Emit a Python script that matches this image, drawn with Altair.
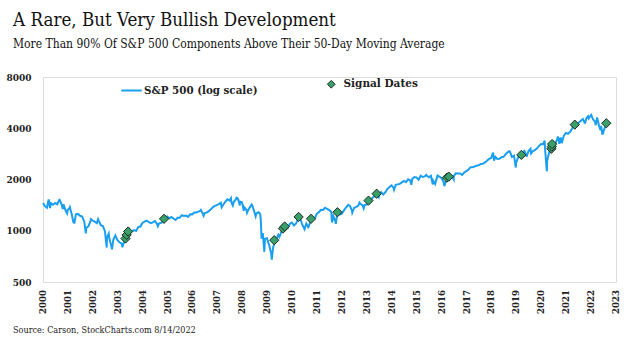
import altair as alt
import pandas as pd

# S&P 500 approximate month-end closes, Jan 2000 .. Jul 2022
years = list(range(2000, 2023))
monthly_closes = {
    2000: [1394, 1366, 1499, 1452, 1421, 1455, 1431, 1518, 1437, 1429, 1315, 1320],
    2001: [1366, 1240, 1160, 1249, 1256, 1224, 1211, 1134, 1041, 1060, 1139, 1148],
    2002: [1130, 1107, 1147, 1077, 1067, 990, 912, 916, 815, 886, 936, 880],
    2003: [856, 841, 848, 917, 964, 975, 990, 1008, 996, 1051, 1058, 1112],
    2004: [1131, 1145, 1126, 1107, 1121, 1141, 1102, 1104, 1115, 1130, 1174, 1212],
    2005: [1181, 1204, 1181, 1157, 1192, 1191, 1234, 1220, 1229, 1207, 1249, 1248],
    2006: [1280, 1281, 1295, 1311, 1270, 1270, 1277, 1304, 1336, 1378, 1401, 1418],
    2007: [1438, 1407, 1421, 1482, 1531, 1503, 1455, 1474, 1527, 1549, 1481, 1468],
    2008: [1379, 1331, 1323, 1386, 1400, 1280, 1267, 1283, 1166, 969, 896, 903],
    2009: [826, 735, 798, 873, 919, 919, 987, 1021, 1057, 1036, 1096, 1115],
    2010: [1074, 1104, 1169, 1187, 1089, 1031, 1102, 1049, 1141, 1183, 1181, 1258],
    2011: [1286, 1327, 1326, 1364, 1345, 1321, 1292, 1219, 1131, 1253, 1247, 1258],
    2012: [1312, 1366, 1408, 1398, 1310, 1362, 1379, 1407, 1441, 1412, 1416, 1426],
    2013: [1498, 1515, 1569, 1598, 1631, 1606, 1686, 1633, 1682, 1757, 1806, 1848],
    2014: [1783, 1859, 1872, 1884, 1924, 1960, 1931, 2003, 1972, 2018, 2068, 2059],
    2015: [1995, 2105, 2068, 2086, 2107, 2063, 2104, 1972, 1920, 2079, 2080, 2044],
    2016: [1940, 1932, 2060, 2065, 2097, 2099, 2174, 2171, 2168, 2126, 2199, 2239],
    2017: [2279, 2364, 2363, 2384, 2412, 2423, 2470, 2472, 2519, 2575, 2648, 2674],
    2018: [2824, 2714, 2641, 2648, 2705, 2718, 2816, 2902, 2914, 2712, 2760, 2507],
    2019: [2704, 2784, 2834, 2946, 2752, 2942, 2980, 2926, 2977, 3038, 3141, 3231],
    2020: [3226, 2954, 2585, 2912, 3044, 3100, 3271, 3500, 3363, 3270, 3622, 3756],
    2021: [3714, 3811, 3973, 4181, 4204, 4298, 4395, 4523, 4308, 4605, 4567, 4766],
    2022: [4516, 4374, 4530, 4132, 4132, 3785, 4130],
}

# intra-month extremes
extra_dates = [
    "2000-01-03", "2000-03-24", "2000-04-14", "2000-09-01", "2000-10-18", "2000-12-20",
    "2001-01-30", "2001-03-22", "2001-04-04", "2001-09-21", "2001-12-05",
    "2002-03-19", "2002-07-23", "2002-08-22", "2002-10-09", "2002-11-27",
    "2003-03-11", "2003-06-17", "2004-08-12", "2006-05-05", "2006-06-13",
    "2007-02-20", "2007-03-05", "2007-07-19", "2007-08-15", "2007-10-09", "2007-11-26",
    "2008-01-22", "2008-03-10", "2008-05-19", "2008-07-15", "2008-09-19", "2008-10-10",
    "2008-11-20", "2009-03-09", "2009-06-12", "2010-04-23", "2010-07-02", "2010-08-26",
    "2011-05-02", "2011-08-08", "2011-10-03", "2011-10-27", "2012-04-02", "2012-06-01",
    "2012-09-14", "2012-11-15", "2013-05-21", "2013-06-24", "2014-02-03", "2014-10-15",
    "2015-05-21", "2015-08-25", "2015-09-28", "2015-11-03", "2016-02-11", "2016-06-27",
    "2018-01-26", "2018-02-08", "2018-09-20", "2018-12-24", "2019-04-30", "2019-06-03",
    "2019-07-26", "2019-08-05", "2020-02-19", "2020-03-23", "2020-09-02", "2020-09-23",
    "2020-10-12", "2021-09-02", "2021-10-04", "2021-11-18", "2022-01-03", "2022-03-08",
    "2022-03-29", "2022-05-20", "2022-06-16", "2022-08-12",
]
extra_values = [
    1455, 1527, 1357, 1520, 1342, 1264,
    1373, 1118, 1103, 966, 1170,
    1170, 797, 962, 777, 938,
    800, 1011, 1064, 1325, 1224,
    1460, 1374, 1553, 1406, 1565, 1407,
    1310, 1273, 1426, 1214, 1255, 899,
    752, 677, 946, 1217, 1022, 1047,
    1361, 1119, 1099, 1285, 1419, 1278,
    1466, 1353, 1669, 1573, 1742, 1862,
    2131, 1868, 1882, 2110, 1829, 2001,
    2873, 2581, 2931, 2351, 2946, 2744,
    3026, 2844, 3386, 2237, 3580, 3237,
    3534, 4537, 4300, 4705, 4797, 4170,
    4632, 3901, 3667, 4280,
]

signal_dates = [
    "2003-04-25", "2003-05-12", "2003-06-02", "2004-11-10", "2009-04-14", "2009-08-20",
    "2009-09-14", "2010-04-06", "2010-10-05", "2011-10-27", "2013-01-25", "2013-05-24",
    "2016-03-18", "2016-04-15", "2019-03-15", "2020-05-28", "2020-06-04", "2020-06-08",
    "2021-05-07", "2022-08-12",
]
signal_values = [
    900, 945, 990, 1175, 880, 1030,
    1060, 1205, 1175, 1285, 1503, 1650,
    2050, 2080, 2790, 3030, 3120, 3230,
    4200, 4280,
]

y_ticks = [500, 1000, 2000, 4000, 8000]
x_tick_years = list(range(2000, 2024))


def year_frac(ts):
    ts = pd.Timestamp(ts)
    start = pd.Timestamp(ts.year, 1, 1)
    end = pd.Timestamp(ts.year + 1, 1, 1)
    return ts.year + (ts - start) / (end - start)


rows = []
for yr in years:
    for m, v in enumerate(monthly_closes[yr], start=1):
        rows.append((pd.Timestamp(yr, m, 28), v))
for d, v in zip(extra_dates, extra_values):
    rows.append((pd.Timestamp(d), v))
line_df = pd.DataFrame(rows, columns=["date", "value"]).sort_values("date")
line_df = line_df.drop_duplicates("date")
line_df["t"] = line_df["date"].map(year_frac)
line_df["series"] = "S&P 500 (log scale)"
line_df = line_df[["t", "value", "series"]]

sig_df = pd.DataFrame({"t": [year_frac(d) for d in signal_dates], "value": signal_values})
sig_df["series"] = "Signal Dates"

tick_df = pd.DataFrame({"t": x_tick_years, "label": [str(y) for y in x_tick_years]})

FONT = "DejaVu Serif"
CFONT = "DejaVu Serif Condensed"
x_scale = alt.Scale(domain=[2000, 2023], nice=False, zero=False)
y_scale = alt.Scale(type="log", domain=[500, 8000], nice=False)

x_axis = alt.Axis(values=x_tick_years, labels=False, ticks=False, domain=False,
                  grid=False, title=None)
y_axis = alt.Axis(
    values=y_ticks, format="d", labelFont=FONT, labelFontSize=9, labelFontWeight="bold",
    labelColor="#222", labelPadding=12, ticks=False, domain=False, grid=False, title=None,
)

line = alt.Chart(line_df).mark_line(strokeWidth=2).encode(
    x=alt.X("t:Q", scale=x_scale, axis=x_axis),
    y=alt.Y("value:Q", scale=y_scale, axis=y_axis),
    color=alt.Color(
        "series:N",
        scale=alt.Scale(range=["#1a9ff0"]),
        legend=alt.Legend(
            orient="none", legendX=77, legendY=2, title=None, symbolType="stroke",
            symbolSize=420, symbolStrokeWidth=2, labelFont=FONT, labelFontSize=10.3,
            labelFontWeight="bold", labelColor="#222", labelOffset=1,
        ),
    ),
)

points = alt.Chart(sig_df).mark_point(
    shape="diamond", filled=True, size=85, stroke="#1d2b22", strokeWidth=1, opacity=1
).encode(
    x="t:Q",
    y="value:Q",
    fill=alt.Fill(
        "series:N",
        scale=alt.Scale(range=["#3aa06a"]),
        legend=alt.Legend(
            orient="none", legendX=283, legendY=2, title=None, symbolType="diamond",
            symbolSize=60, symbolStrokeColor="#1d2b22", symbolStrokeWidth=1,
            labelFont=FONT, labelFontSize=10.5, labelFontWeight="bold",
            labelColor="#222", labelOffset=7,
        ),
    ),
)

year_labels = alt.Chart(tick_df).mark_text(
    angle=270, align="right", baseline="middle", font=FONT, fontSize=8.6,
    fontWeight="bold", color="#222",
).encode(x="t:Q", y=alt.value(213), text="label:N")

source = alt.Chart(alt.Data(values=[{"t": "Source: Carson, StockCharts.com 8/14/2022"}])).mark_text(
    align="left", baseline="middle", font=CFONT, fontSize=9, color="#222"
).encode(text="t:N", x=alt.value(-30), y=alt.value(253))

chart = alt.layer(line, points, year_labels, source).properties(
    width=573,
    height=205,
    autosize=alt.AutoSizeParams(type="none"),
    padding={"left": 43, "top": 77, "right": 14, "bottom": 69},
    title=alt.TitleParams(
        text="A Rare, But Very Bullish Development",
        subtitle="More Than 90% Of S&P 500 Components Above Their 50-Day Moving Average",
        anchor="start", frame="group", dx=-30, offset=23,
        font=CFONT, fontSize=18.6, fontWeight="normal", color="#111",
        subtitleFont=CFONT, subtitleFontSize=12, subtitleColor="#111", subtitlePadding=9,
    ),
).configure_view(stroke=None).configure(background="white")

chart.save("out.html", embed_options={"renderer": "svg", "actions": False})
